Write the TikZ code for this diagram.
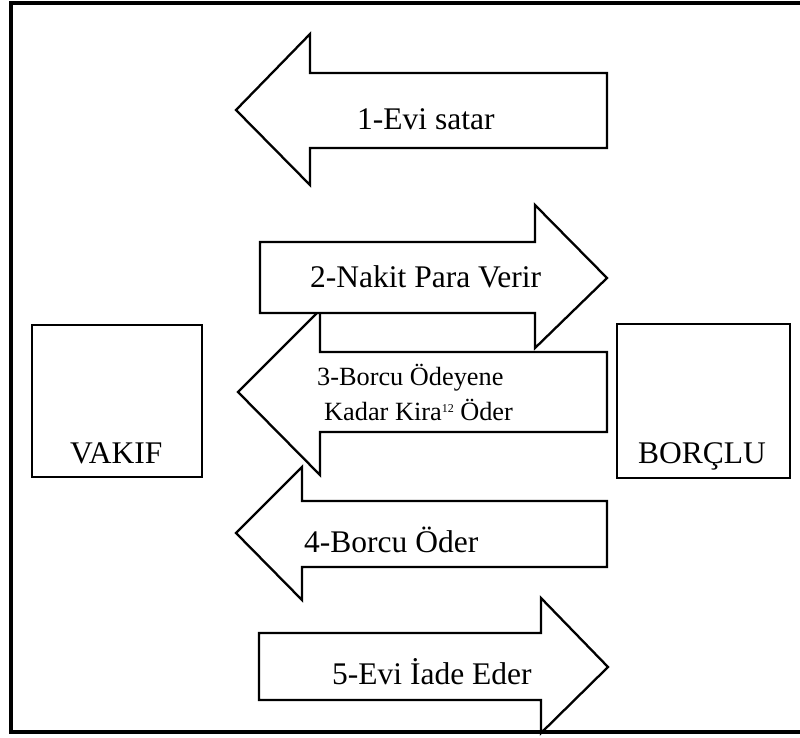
\documentclass[tikz,border=0pt]{standalone}
\usepackage{fontspec}
\setmainfont{Liberation Serif}
\begin{document}
\begin{tikzpicture}[x=1pt,y=-1pt,
  arrowshape/.style={draw=black,fill=white,line width=2.3pt,line join=miter},
  partybox/.style={draw=black,line width=2.6pt},
  biglabel/.style={inner sep=0pt,anchor=base west,font=\fontsize{31.5}{36}\selectfont},
  smalllabel/.style={inner sep=0pt,anchor=base west,font=\fontsize{26.3}{30}\selectfont}]
\useasboundingbox (0,0) rectangle (800,737);
% parties
\draw[partybox] (32,325) rectangle (202,477);
\draw[partybox] (617,324) rectangle (790,478);
\node[biglabel] (vakif) at (70,463) {VAKIF};
\node[biglabel] (borclu) at (638,463) {BORÇLU};
% arrow 1
\draw[arrowshape] (607,73) -- (310,73) -- (310,34) -- (236,110) -- (310,185) -- (310,148) -- (607,148) -- cycle;
\node[biglabel] (a1) at (357,129) {1-Evi satar};
% arrow 3 (below arrow 2)
\draw[arrowshape] (607,352) -- (320,352) -- (320,310) -- (238,392) -- (320,475) -- (320,432) -- (607,432) -- cycle;
\node[smalllabel] (a3a) at (317,385) {3-Borcu Ödeyene};
\node[smalllabel] (a3b) at (324,420) {Kadar Kira\raisebox{8pt}{\fontsize{12}{12}\selectfont 12} Öder};
% arrow 2
\draw[arrowshape] (260,242) -- (535,242) -- (535,205) -- (607,278) -- (535,348) -- (535,313) -- (260,313) -- cycle;
\node[biglabel] (a2) at (310,287) {2-Nakit Para Verir};
% arrow 4
\draw[arrowshape] (607,501) -- (302,501) -- (302,467) -- (236,533) -- (302,600) -- (302,567) -- (607,567) -- cycle;
\node[biglabel] (a4) at (304,552) {4-Borcu Öder};
% arrow 5
\draw[arrowshape] (259,633) -- (541,633) -- (541,598) -- (608,667) -- (541,733) -- (541,700) -- (259,700) -- cycle;
\node[biglabel] (a5) at (332,684) {5-Evi İade Eder};
% frame
\draw[line width=4pt] (800,3) -- (11,3) -- (11,732) -- (800,732);
\end{tikzpicture}
\end{document}
